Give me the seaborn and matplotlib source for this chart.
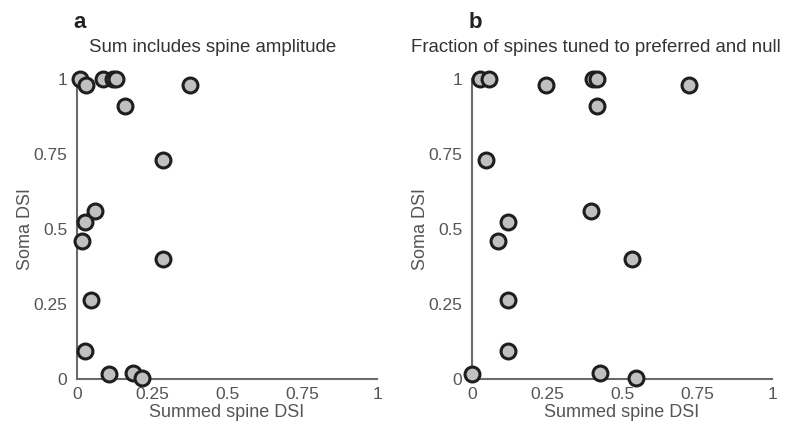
import matplotlib
matplotlib.use("Agg")
import matplotlib.pyplot as plt
import seaborn as sns
import pandas as pd

# soma DSI per cell (shared by both panels)
soma_dsi = [1.0, 0.98, 1.0, 1.0, 1.0, 0.91, 0.98, 0.73, 0.56, 0.523,
            0.46, 0.40, 0.264, 0.092, 0.018, 0.02, 0.002]
# panel a: summed spine DSI, sum includes spine amplitude
spine_dsi_amp = [0.01, 0.03, 0.087, 0.12, 0.13, 0.16, 0.377, 0.288, 0.059, 0.028,
                 0.018, 0.288, 0.047, 0.028, 0.108, 0.188, 0.218]
# panel b: fraction of spines tuned to preferred and null
spine_dsi_frac = [0.027, 0.247, 0.058, 0.402, 0.416, 0.416, 0.722, 0.047, 0.397, 0.119,
                  0.088, 0.534, 0.119, 0.119, 0.0, 0.428, 0.547]

tick_vals = [0, 0.25, 0.5, 0.75, 1]
tick_labels = ["0", "0.25", "0.5", "0.75", "1"]
titles = ["Sum includes spine amplitude", "Fraction of spines tuned to preferred and null"]
letters = ["a", "b"]

sns.set_style("white")
plt.rcParams['font.family'] = ['Liberation Sans', 'DejaVu Sans']

axis_col = "#6a6a6a"
text_col = "#555555"

fig = plt.figure(figsize=(7.87, 4.37), dpi=100)
W, H = 787, 437
ax_left = [77, 472]
title_cx = [213, 596]

for i, xs in enumerate([spine_dsi_amp, spine_dsi_frac]):
    x0 = ax_left[i]
    ax = fig.add_axes([x0 / W, (H - 379) / H, 300 / W, 300 / H])
    df = pd.DataFrame({"spine": xs, "soma": soma_dsi})
    sns.scatterplot(data=df, x="spine", y="soma", ax=ax, s=115,
                    color="#c0c0c0", edgecolor="#1e1e1e", linewidth=2.2,
                    clip_on=False, zorder=3)
    ax.set_xlim(0, 1)
    ax.set_ylim(0, 1)
    ax.set_xticks(tick_vals)
    ax.set_xticklabels(tick_labels)
    ax.set_yticks(tick_vals)
    ax.set_yticklabels(tick_labels)
    ax.tick_params(axis="x", direction="in", length=4, width=1.2, colors=axis_col,
                   labelcolor=text_col, labelsize=12.5, pad=6)
    ax.tick_params(axis="y", direction="out", length=4, width=1.2, colors=axis_col,
                   labelcolor=text_col, labelsize=12.5, pad=3)
    for side in ["top", "right"]:
        ax.spines[side].set_visible(False)
    for side in ["left", "bottom"]:
        ax.spines[side].set_color(axis_col)
        ax.spines[side].set_linewidth(1.5)
    ax.set_xlabel("Summed spine DSI", fontsize=13, color=text_col, labelpad=1)
    ax.set_ylabel("Soma DSI", fontsize=13, color=text_col)
    ax.yaxis.set_label_coords(-0.142, 0.5)

    fig.text(title_cx[i] / W, (H - 47) / H, titles[i], ha="center", va="center",
             fontsize=13.4, color="#333333")
    fig.text((x0 + 3) / W, (H - 22) / H, letters[i], ha="center", va="center",
             fontsize=16, fontweight="bold", color="#222222")

fig.savefig("out.png", dpi=100)
